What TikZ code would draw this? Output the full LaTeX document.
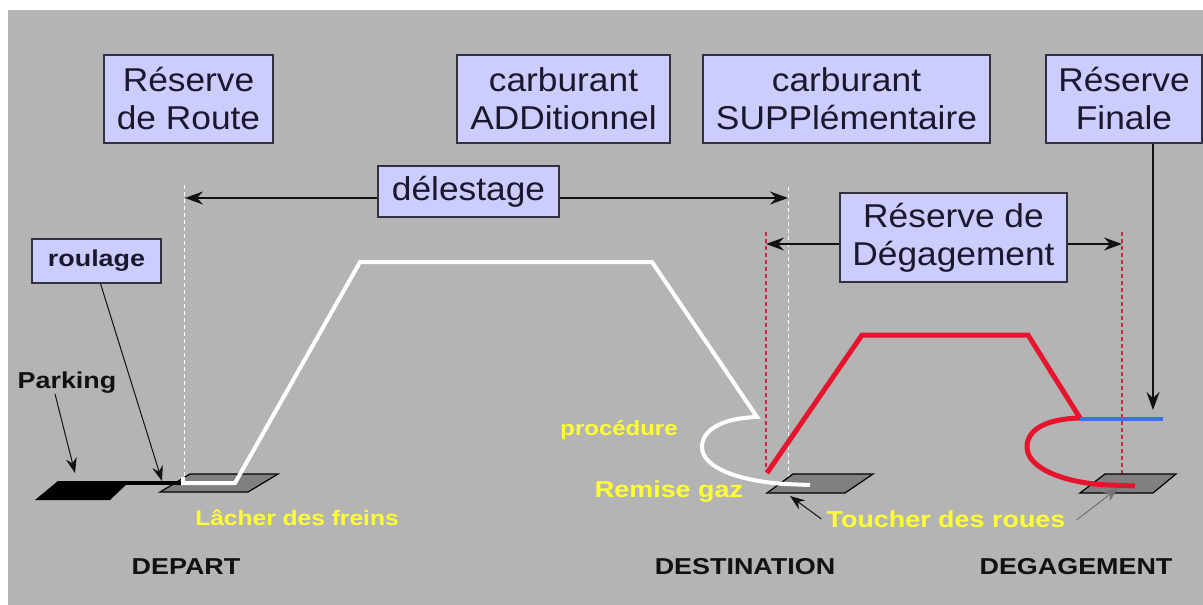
\documentclass[tikz,border=0pt]{standalone}
\usepackage{fontspec}
\setmainfont{Liberation Sans}
\newfontfamily\boxfont[FakeStretch=1.07]{Liberation Sans}
\newfontfamily\lblfont[FakeStretch=1.17]{Liberation Sans}
\usetikzlibrary{arrows.meta,calc}
\definecolor{bg}{RGB}{180,180,180}
\definecolor{boxfill}{RGB}{204,204,255}
\definecolor{boxline}{RGB}{50,50,60}
\definecolor{boxtext}{RGB}{25,25,45}
\definecolor{yel}{RGB}{255,255,51}
\definecolor{rd}{RGB}{230,20,45}
\definecolor{bl}{RGB}{60,110,240}
\definecolor{rwy}{RGB}{128,128,128}
\definecolor{rdash}{RGB}{200,40,70}
\definecolor{ink}{RGB}{17,17,17}
\tikzset{
  bx/.style={draw=boxline, fill=boxfill, line width=1.3pt, inner sep=0pt, align=center, text=boxtext,
    font=\boxfont\fontsize{33}{38}\selectfont},
  lblsz/.style={font=\lblfont\bfseries\fontsize{#1}{#1}\selectfont},
  lbl/.style={lblsz=23, inner sep=0pt, text=ink},
  ylw/.style={lbl, text=yel},
  arr/.style={-{Stealth[length=18pt,width=13pt,inset=6pt]}, line width=1.3pt, ink},
  sarr/.style={-{Stealth[length=15pt,width=11pt,inset=5pt]}, line width=1pt, ink},
  wdash/.style={white, line width=1pt, dash pattern=on 4pt off 3pt},
  rdashed/.style={rdash, line width=1.2pt, dash pattern=on 4pt off 3pt},
  wpath/.style={white, line width=4pt},
  rpath/.style={rd, line width=5pt},
  bpath/.style={bl, line width=4.5pt},
  runway/.style={fill=rwy, draw=black, line width=1.2pt}
}
\begin{document}
\begin{tikzpicture}[x=1pt,y=-1pt]
\useasboundingbox (0,0) rectangle (1203,605);
\fill[white] (0,0) rectangle (1203,605);
\fill[bg] (8,10) rectangle (1203,605);

% boxes
\node[bx, minimum width=169, minimum height=88] (rdr) at (188.5,99) {Réserve\\de Route};
\node[bx, minimum width=213, minimum height=88] (add) at (563.5,99) {carburant\\ADDitionnel};
\node[bx, minimum width=287, minimum height=88] (sup) at (846.5,99) {carburant\\SUPPlémentaire};
\node[bx, minimum width=156, minimum height=88] (rf) at (1124,99) {Réserve\\Finale};
\node[bx, minimum width=181, minimum height=51] (del) at (468.5,191.5) {délestage};
\node[bx, minimum width=227, minimum height=89] (rdd) at (953.5,237.5) {Réserve de\\Dégagement};
\node[bx, minimum width=129, minimum height=44, lblsz=23] (rou) at (96.5,261) {roulage};

% dashed verticals
\coordinate (wl1) at (184,185); \coordinate (wl2) at (184,478);
\coordinate (wr1) at (788,187); \coordinate (wr2) at (788,477);
\coordinate (rl1) at (766,232); \coordinate (rl2) at (766,472);
\coordinate (rr1) at (1122,232); \coordinate (rr2) at (1122,488);
\draw[wdash] (wl1) -- (wl2);
\draw[wdash] (wr1) -- (wr2);
\draw[rdashed] (rl1) -- (rl2);
\draw[rdashed] (rr1) -- (rr2);

% span arrows
\coordinate (dL) at (185,198); \coordinate (dR) at (788,198);
\draw[arr] (del.west |- dL) -- (dL);
\draw[arr] (del.east |- dR) -- (dR);
\coordinate (gL) at (766,244); \coordinate (gR) at (1122,244);
\draw[arr] (rdd.west |- gL) -- (gL);
\draw[arr] (rdd.east |- gR) -- (gR);
\coordinate (fT) at (1153,410);
\draw[arr] (rf.south -| fT) -- (fT);

% runways
\draw[runway] (190,474) -- (278,474) -- (248,492) -- (160,492) -- cycle;
\draw[runway] (793,474) -- (873,474) -- (845,493) -- (767,493) -- cycle;
\draw[runway] (1105,474) -- (1176,474) -- (1153,493) -- (1080,493) -- cycle;

% parking
\fill[black] (58,481) -- (130,481) -- (110,500) -- (35,500) -- cycle;
\draw[black, line width=4.5pt] (125,483) -- (183,483);

% flight paths
\draw[wpath] (183,477) -- (183,483) -- (235,483) -- (360,262) -- (652,262) -- (757,417)
  .. controls (722,418) and (702,430) .. (702,447)
  .. controls (702,468) and (740,481) .. (785,484) -- (810,485);
\draw[rpath] (767,473) -- (862,335) -- (1028,335) -- (1080,418)
  .. controls (1045,419) and (1027,430) .. (1027,447)
  .. controls (1027,470) and (1070,484) .. (1110,485) -- (1135,486);
\draw[bpath] (1080,419) -- (1163,419);

% labels
\node[lbl] (pk) at (67,383) {Parking};
\coordinate (pkT) at (75,473);
\draw[sarr] ($(pk.south)+(-12,0)$) -- (pkT);
\coordinate (rouT) at (162,481);
\draw[sarr] ($(rou.south)+(4,0)$) -- (rouT);

\node[ylw, lblsz=21] (lf) at (297,518) {Lâcher des freins};
\node[lbl] (dep) at (186,567) {DEPART};
\node[ylw, lblsz=20.5] (proc) at (619,430) {procédure};
\node[ylw] (rg) at (669,492) {Remise gaz};
\node[ylw] (tch) at (946,519) {Toucher des roues};
\node[lbl] (dst) at (745,567) {DESTINATION};
\node[lbl] (dgg) at (1076,567) {DEGAGEMENT};

\coordinate (tL) at (790,496); \coordinate (tR) at (1118,488);
\draw[sarr] ($(tch.west)+(-5,0)$) -- (tL);
\draw[sarr, draw=black!55, fill=ink] ($(tch.east)+(11,1)$) -- (tR);
\end{tikzpicture}
\end{document}
